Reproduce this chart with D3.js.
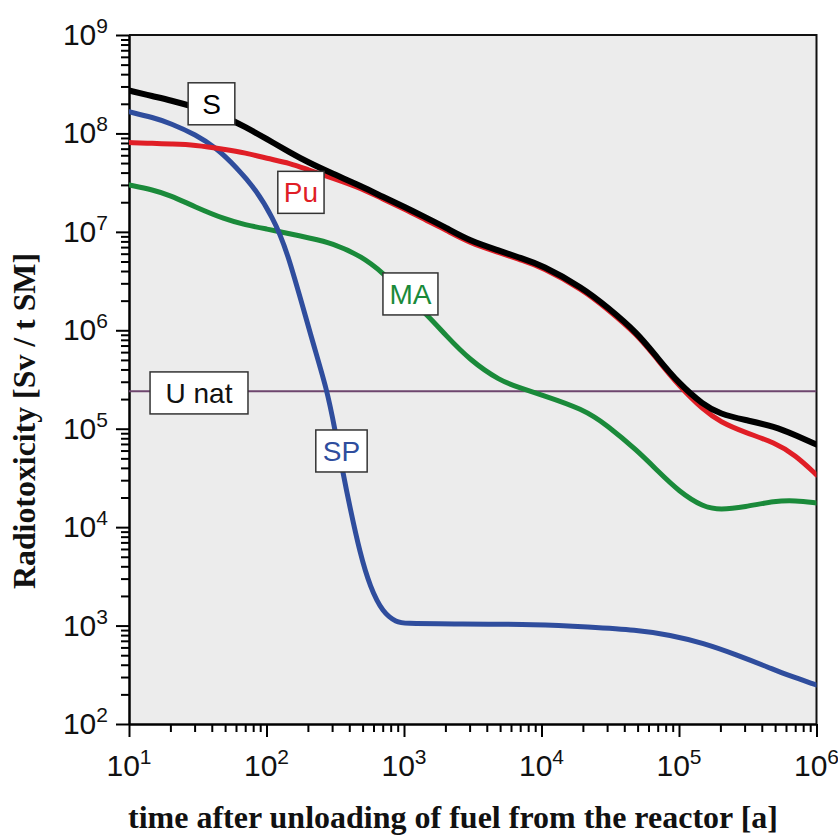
<!DOCTYPE html>
<html>
<head>
<meta charset="utf-8">
<script src="https://cdn.jsdelivr.net/npm/d3@7"></script>
<style>
  html, body { margin: 0; padding: 0; background: #ffffff; }
  svg { display: block; }
</style>
</head>
<body>
<svg id="chart" width="838" height="836"></svg>
<script>
// ---------------- DATA ----------------
const years = [10, 15, 20, 30, 50, 70, 100, 150, 200, 300, 500, 700,
  1000, 1500, 2000, 3000, 5000, 7000, 1e4, 2e4, 3e4, 5e4, 7e4,
  1e5, 1.5e5, 2e5, 3e5, 5e5, 7e5, 1e6];

const seriesS = [2.73e8, 2.38e8, 2.17e8, 1.86e8, 1.47e8, 1.17e8,
  8.8e7, 6.35e7, 5.1e7, 3.92e7, 2.87e7, 2.27e7,
  1.80e7, 1.36e7, 1.11e7, 8.1e6, 6.4e6, 5.44e6,
  4.62e6, 2.70e6, 1.73e6, 9.4e5, 5.19e5,
  2.87e5, 1.75e5, 1.41e5, 1.23e5, 1.05e5, 8.6e4, 6.9e4];

const seriesPu = [8.09e7, 7.93e7, 7.8e7, 7.66e7, 6.89e7, 6.35e7,
  5.58e7, 4.97e7, 4.27e7, 3.54e7, 2.74e7, 2.16e7,
  1.71e7, 1.28e7, 1.05e7, 7.73e6, 6.12e6, 5.19e6,
  4.41e6, 2.58e6, 1.65e6, 8.98e5, 5.0e5,
  2.72e5, 1.55e5, 1.17e5, 9.19e4, 7.2e4, 5.4e4, 3.4e4];

const seriesMA = [3.0e7, 2.67e7, 2.35e7, 1.80e7, 1.34e7, 1.18e7,
  1.07e7, 9.55e6, 8.7e6, 7.73e6, 5.57e6, 3.83e6,
  2.40e6, 1.40e6, 8.98e5, 5.0e5, 3.06e5, 2.6e5,
  2.21e5, 1.59e5, 1.09e5, 5.94e4, 3.73e4,
  2.3e4, 1.6e4, 1.5e4, 1.6e4, 1.85e4, 1.87e4, 1.76e4];

const yearsSP = [10, 15, 20, 30.7, 43, 60, 84, 110, 139, 214, 276, 315,
  360, 404, 478, 566, 703, 889, 1000, 2000, 1e4, 2.14e4, 4.95e4,
  8.6e4, 1.5e5, 2.64e5, 4.59e5, 6.1e5, 1e6];
const seriesSP = [1.66e8, 1.45e8, 1.27e8, 9.68e7, 7.14e7, 4.58e7, 2.67e7,
  1.42e7, 7.05e6, 7.98e5, 2.48e5, 9.7e4,
  3.56e4, 1.6e4, 5.47e3, 2.47e3, 1.34e3, 1.08e3, 1.05e3, 1.04e3, 1.03e3,
  9.68e2, 9.03e2, 8.02e2, 6.65e2, 5.03e2, 3.71e2, 3.15e2, 2.49e2];

const uNat = 2.4e5;

const xTicks = [1e1, 1e2, 1e3, 1e4, 1e5, 1e6];
const xTickExp = ["1", "2", "3", "4", "5", "6"];
const yTicks = [1e2, 1e3, 1e4, 1e5, 1e6, 1e7, 1e8, 1e9];
const yTickExp = ["2", "3", "4", "5", "6", "7", "8", "9"];

const labelNames = ["S", "Pu", "MA", "U nat", "SP"];
const labelAt = [[39.8, 2.0e8], [178, 2.52e7], [1114, 2.34e6], [32.3, 2.31e5], [351, 5.94e4]];

const xTitle = "time after unloading of fuel from the reactor [a]";
const yTitle = "Radiotoxicity [Sv / t SM]";

// ---------------- LAYOUT ----------------
const svg = d3.select("#chart");
const L = 129, R = 816.5, T = 35, B = 724;

const x = d3.scaleLog().domain([10, 1e6]).range([L, R]);
const y = d3.scaleLog().domain([100, 1e9]).range([B, T]);

const colors = { S: "#000000", Pu: "#e01e26", MA: "#1a8a3a", SP: "#2f4d9d", U: "#6e466e" };

// plot background
svg.append("rect").attr("x", L).attr("y", T).attr("width", R - L).attr("height", B - T)
  .attr("fill", "#ececec");

svg.append("clipPath").attr("id", "clip").append("rect")
  .attr("x", L).attr("y", T).attr("width", R - L).attr("height", B - T);

// minor ticks
function minorTicks(lo, hi) {
  const out = [];
  for (let e = lo; e < hi; e++) for (let k = 2; k <= 9; k++) out.push(k * Math.pow(10, e));
  return out;
}

const gx = svg.append("g").attr("transform", `translate(0,${B})`);
gx.call(d3.axisBottom(x).tickValues(minorTicks(1, 6)).tickSize(8).tickSizeOuter(0).tickFormat(""));
gx.call(g => g.selectAll(".tick line").attr("stroke-width", 2));
const gx2 = svg.append("g").attr("transform", `translate(0,${B})`);
gx2.call(d3.axisBottom(x).tickValues(xTicks).tickSize(13).tickSizeOuter(0).tickFormat(""));
gx2.call(g => g.selectAll(".tick line").attr("stroke-width", 2));
[gx, gx2].forEach(g => g.select(".domain").attr("stroke-width", 2));

const gy = svg.append("g").attr("transform", `translate(${L},0)`);
gy.call(d3.axisLeft(y).tickValues(minorTicks(2, 9)).tickSize(8).tickSizeOuter(0).tickFormat(""));
gy.call(g => g.selectAll(".tick line").attr("stroke-width", 2));
const gy2 = svg.append("g").attr("transform", `translate(${L},0)`);
gy2.call(d3.axisLeft(y).tickValues(yTicks).tickSize(13).tickSizeOuter(0).tickFormat(""));
gy2.call(g => g.selectAll(".tick line").attr("stroke-width", 2));
[gy, gy2].forEach(g => g.select(".domain").attr("stroke-width", 2));

// top & right frame
svg.append("path")
  .attr("d", `M${L},${T}H${R}V${B}`)
  .attr("fill", "none").attr("stroke", "#111").attr("stroke-width", 2);

// tick labels
const tickFont = "'Liberation Sans', Arial, sans-serif";
xTicks.forEach((v, i) => {
  const t = svg.append("text").attr("x", x(v)).attr("y", B + 52)
    .attr("text-anchor", "middle").attr("font-family", tickFont).attr("font-size", 30).attr("fill", "#111");
  t.append("tspan").text("10");
  t.append("tspan").attr("dy", -12).attr("font-size", 21).text(xTickExp[i]);
});
yTicks.forEach((v, i) => {
  const t = svg.append("text").attr("x", 108).attr("y", y(v) + 10)
    .attr("text-anchor", "end").attr("font-family", tickFont).attr("font-size", 30).attr("fill", "#111");
  t.append("tspan").text("10");
  t.append("tspan").attr("dy", -12).attr("font-size", 21).text(yTickExp[i]);
});

// axis titles
svg.append("text").attr("x", 453).attr("y", 828).attr("text-anchor", "middle")
  .attr("font-family", "'Liberation Serif', 'Times New Roman', serif").attr("font-weight", "bold")
  .attr("font-size", 31).attr("textLength", 650).attr("lengthAdjust", "spacingAndGlyphs")
  .attr("fill", "#111").text(xTitle);
svg.append("text").attr("transform", "translate(35,421) rotate(-90)").attr("text-anchor", "middle")
  .attr("font-family", "'Liberation Serif', 'Times New Roman', serif").attr("font-weight", "bold")
  .attr("font-size", 31).attr("textLength", 336).attr("lengthAdjust", "spacingAndGlyphs")
  .attr("fill", "#111").text(yTitle);

// curves
const plot = svg.append("g").attr("clip-path", "url(#clip)");
const line = d3.line().x(d => x(d[0])).y(d => y(d[1])).curve(d3.curveBasis);

plot.append("line").attr("x1", x(10)).attr("x2", x(1e6)).attr("y1", y(uNat)).attr("y2", y(uNat))
  .attr("stroke", colors.U).attr("stroke-width", 2);

const curves = [
  { xs: years, ys: seriesMA, c: colors.MA, w: 5 },
  { xs: yearsSP, ys: seriesSP, c: colors.SP, w: 5 },
  { xs: years, ys: seriesPu, c: colors.Pu, w: 5 },
  { xs: years, ys: seriesS, c: colors.S, w: 6 }
];
curves.forEach(cv => {
  plot.append("path").datum(cv.xs.map((t, i) => [t, cv.ys[i]]))
    .attr("d", line).attr("fill", "none").attr("stroke", cv.c)
    .attr("stroke-width", cv.w).attr("stroke-linejoin", "round").attr("stroke-linecap", "round");
});

// labels
const labelColors = [colors.S, colors.Pu, colors.MA, "#111", colors.SP];
const labelPad = [14, 6, 6.5, 15.5, 7];
labelNames.forEach((name, i) => {
  const cx = x(labelAt[i][0]), cy = y(labelAt[i][1]);
  const g = svg.append("g");
  const rect = g.append("rect");
  const txt = g.append("text").attr("x", cx).attr("y", cy + 10).attr("text-anchor", "middle")
    .attr("font-family", tickFont).attr("font-size", 28).attr("fill", labelColors[i]).text(name);
  const tw = txt.node().getComputedTextLength();
  const w = tw + 2 * labelPad[i], h = 42;
  rect.attr("x", cx - w / 2).attr("y", cy - h / 2).attr("width", w).attr("height", h)
    .attr("fill", "#ffffff").attr("stroke", "#333").attr("stroke-width", 1.5);
});
</script>
</body>
</html>
